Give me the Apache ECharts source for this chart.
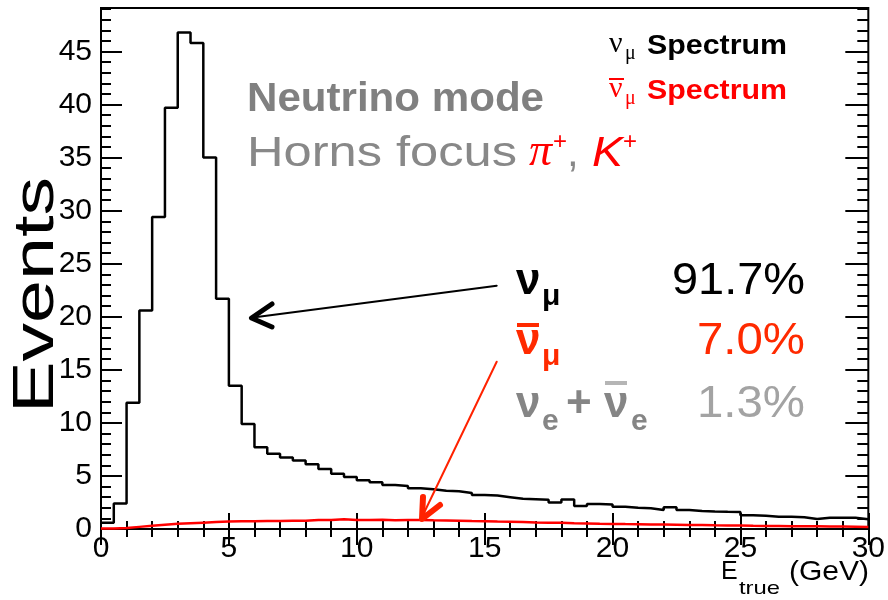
<!DOCTYPE html>
<html><head><meta charset="utf-8">
<script src="https://cdn.jsdelivr.net/npm/echarts@6.0.0/dist/echarts.min.js"></script>
<style>html,body{margin:0;padding:0;background:#fff}#c{width:888px;height:600px}</style>
</head><body><div id="c"></div>
<script>
// ---- data (0.5 GeV bins from 0 to 30 GeV) ----
const binWidth = 0.5;
const xMin = 0, xMax = 30;
const yMin = 0, yMax = 49.1;
const numuSpectrum = [
  0.6, 2.4, 11.9, 20.6, 29.4, 39.7, 46.8, 45.8, 35.0, 21.7,
  13.5, 9.9, 7.7, 7.1, 6.75, 6.45, 6.1, 5.65, 5.2, 4.9,
  4.6, 4.4, 4.15, 4.05, 3.85, 3.75, 3.6, 3.55, 3.4, 3.2,
  3.15, 3.0, 2.85, 2.8, 2.75, 2.5, 2.78, 2.16, 2.35, 2.3,
  2.1, 2.0, 1.95, 1.8, 2.05, 1.8, 1.7, 1.65, 1.62, 1.6,
  1.29, 1.25, 1.16, 1.15, 1.1, 0.94, 1.07, 1.05, 1.05, 0.91
];
const numubarSpectrum = [
  0.05, 0.1, 0.2, 0.3, 0.4, 0.5, 0.55, 0.6, 0.65, 0.7,
  0.72, 0.72, 0.75, 0.75, 0.78, 0.78, 0.85, 0.85, 0.92, 0.85,
  0.85, 0.88, 0.82, 0.85, 0.85, 0.82, 0.8, 0.78, 0.75, 0.73,
  0.7, 0.68, 0.65, 0.62, 0.6, 0.58, 0.55, 0.53, 0.5, 0.48,
  0.46, 0.45, 0.43, 0.42, 0.4, 0.38, 0.37, 0.35, 0.34, 0.32,
  0.3, 0.29, 0.28, 0.27, 0.26, 0.25, 0.24, 0.23, 0.22, 0.2
];
const fractionLabels = ['91.7%', '7.0%', '1.3%'];

function histPoints(values) {
  const pts = values.map((v, i) => [xMin + i * binWidth, v]);
  pts.push([xMin + values.length * binWidth, values[values.length - 1]]);
  return pts;
}

// ---- text helpers ----
const mctx = document.createElement('canvas').getContext('2d');
function measure(t, size, weight, style, family) {
  mctx.font = style + ' ' + weight + ' ' + size + 'px "' + family + '"';
  return mctx.measureText(t).width;
}
function T(t, x, base, size, o) {
  o = o || {};
  const weight = o.bold ? 'bold' : 'normal';
  const style = o.italic ? 'italic' : 'normal';
  const family = o.family || 'Liberation Sans';
  const m = measure(t, size, weight, style, family);
  const sx = o.w ? o.w / m : 1;
  return {
    type: 'text', x: x, y: base - 0.31 * size, scaleX: sx, silent: true, z: 100,
    style: { text: t, fontSize: size, fontWeight: weight, fontStyle: style, fontFamily: family,
      fill: o.color || '#000', align: 'left', verticalAlign: 'middle' }
  };
}
function R(x, y, w, h, color) {
  return { type: 'rect', silent: true, z: 100, shape: { x: x, y: y, width: w, height: h }, style: { fill: color } };
}
function P(points, color, width) {
  return { type: 'polyline', silent: true, z: 100, shape: { points: points },
    style: { stroke: color, lineWidth: width, lineJoin: 'round', lineCap: 'round', fill: null } };
}

const gray = '#858585', lightGray = '#a3a3a3', red = '#ff0000', red2 = '#ff2a00';

const eventsW = measure('Events', 58, 'normal', 'normal', 'Liberation Sans');

const graphics = [
  // legend
  T('\u03bd', 609, 53, 30, { family: 'Liberation Serif' }),
  T('\u03bc', 625, 60, 20, { family: 'Liberation Serif' }),
  T('Spectrum', 647, 55, 28, { bold: true, w: 140 }),
  R(609, 78, 15, 2, red),
  T('\u03bd', 609, 98, 30, { family: 'Liberation Serif', color: red }),
  T('\u03bc', 625, 105, 20, { family: 'Liberation Serif', color: red }),
  T('Spectrum', 647, 100, 28, { bold: true, w: 140, color: red }),
  // mode text
  T('Neutrino mode', 247, 112, 40, { bold: true, color: '#808080', w: 297 }),
  T('Horns focus', 247, 167, 42, { color: '#888888', w: 270 }),
  T('\u03c0', 529, 167, 46, { family: 'Liberation Serif', italic: true, color: red }),
  T('+', 553, 150, 24, { color: red }),
  T(',', 567, 167, 42, { color: '#888888' }),
  T('K', 592, 167, 42, { italic: true, color: red, w: 31 }),
  T('+', 623, 150, 24, { color: red }),
  // fractions block
  T('\u03bd', 516, 295, 44, { bold: true }),
  T('\u03bc', 542, 306, 30, { bold: true }),
  T(fractionLabels[0], 672, 295, 44, { w: 133 }),
  R(517, 323, 22, 4, red2),
  T('\u03bd', 516, 355, 44, { bold: true, color: red2 }),
  T('\u03bc', 542, 366, 30, { bold: true, color: red2 }),
  T(fractionLabels[1], 697, 355, 44, { w: 108, color: red2 }),
  T('\u03bd', 516, 418, 44, { bold: true, color: gray }),
  T('e', 542, 431, 30, { bold: true, color: gray }),
  T('+', 566, 418, 44, { bold: true, color: gray }),
  R(605, 381, 22, 4, '#b5b5b5'),
  T('\u03bd', 604, 418, 44, { bold: true, color: gray }),
  T('e', 631, 431, 30, { bold: true, color: gray }),
  T(fractionLabels[2], 697, 418, 44, { w: 108, color: lightGray }),
  // arrows
  P([[496.7, 285.7], [253, 317.5]], '#000', 2),
  P([[272, 304], [251.5, 318], [272, 327]], '#000', 5),
  P([[496.7, 361.7], [422.5, 516]], '#ff2200', 2),
  P([[423, 497], [422, 519], [440, 505]], '#ff2200', 6),
  // axis titles
  { type: 'text', x: 37, y: 295, rotation: Math.PI / 2, scaleX: 236 / eventsW, silent: true, z: 100,
    style: { text: 'Events', fontSize: 58, fontFamily: 'Liberation Sans', fill: '#000', align: 'center', verticalAlign: 'middle' } },
  T('E', 721, 580, 25),
  T('true', 739, 595, 19, { w: 41 }),
  T('(GeV)', 789, 581, 28, { w: 80 })
];

const tickStyle = { color: '#000', width: 2 };
const common = { type: 'value', min: xMin, max: xMax, interval: 5, splitLine: { show: false }, axisLine: { show: false } };

const option = {
  animation: false,
  backgroundColor: '#fff',
  grid: { left: 101, top: 8, width: 769, height: 521, show: true, borderColor: '#000', borderWidth: 2, backgroundColor: 'transparent' },
  xAxis: [
    Object.assign({}, common, { position: 'bottom',
      axisTick: { inside: true, length: 16, lineStyle: tickStyle },
      minorTick: { show: true, splitNumber: 5, length: 8, lineStyle: tickStyle },
      axisLabel: { fontSize: 30, color: '#000', fontFamily: 'Liberation Sans', margin: 5 } }),
    Object.assign({}, common, { position: 'top',
      axisTick: { inside: true, length: 16, lineStyle: tickStyle },
      minorTick: { show: true, splitNumber: 5, length: 8, lineStyle: tickStyle },
      axisLabel: { show: false } })
  ],
  yAxis: [
    { type: 'value', min: yMin, max: yMax, interval: 5, position: 'left', splitLine: { show: false }, axisLine: { show: false },
      axisTick: { inside: true, length: 21, lineStyle: tickStyle },
      axisLabel: { fontSize: 30, color: '#000', fontFamily: 'Liberation Sans', margin: 9, showMaxLabel: false } },
    { type: 'value', min: yMin, max: yMax, interval: 1, position: 'left', splitLine: { show: false }, axisLine: { show: false },
      axisTick: { inside: true, length: 10, lineStyle: tickStyle }, axisLabel: { show: false } },
    { type: 'value', min: yMin, max: yMax, interval: 5, position: 'right', splitLine: { show: false }, axisLine: { show: false },
      axisTick: { inside: true, length: 23, lineStyle: tickStyle }, axisLabel: { show: false } },
    { type: 'value', min: yMin, max: yMax, interval: 1, position: 'right', splitLine: { show: false }, axisLine: { show: false },
      axisTick: { inside: true, length: 11, lineStyle: tickStyle }, axisLabel: { show: false } }
  ],
  series: [
    { name: 'numu', type: 'line', step: 'end', data: histPoints(numuSpectrum), symbol: 'none',
      lineStyle: { color: '#000', width: 2.5 }, xAxisIndex: 0, yAxisIndex: 0, z: 3 },
    { name: 'numubar', type: 'line', step: 'end', data: histPoints(numubarSpectrum), symbol: 'none',
      lineStyle: { color: red, width: 2.5 }, xAxisIndex: 0, yAxisIndex: 0, z: 4 }
  ],
  graphic: graphics
};

const chart = echarts.init(document.getElementById('c'), null, { renderer: 'canvas' });
chart.setOption(option);
</script>
</body></html>
